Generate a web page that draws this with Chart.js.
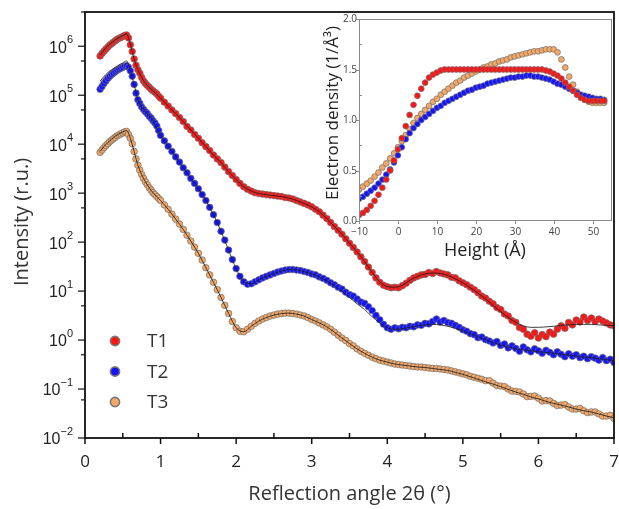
<!DOCTYPE html>
<html>
<head>
<meta charset="utf-8">
<script src="https://cdn.jsdelivr.net/npm/chart.js@4.4.1/dist/chart.umd.min.js"></script>
<style>
  html, body { margin: 0; padding: 0; background: #fff; }
  #wrap { position: relative; width: 619px; height: 509px; }
  #main { position: absolute; left: 0; top: 0; }
  #inset { position: absolute; left: 300px; top: 0; }
</style>
</head>
<body>
<div id="wrap">
  <canvas id="main" width="619" height="509"></canvas>
  <canvas id="inset" width="319" height="270"></canvas>
</div>
<script>
// reflectivity curves (main plot)
const seriesNames = ['T1', 'T2', 'T3'];

const angle = [
  0.2, 0.225, 0.25, 0.275, 0.3, 0.325, 0.35, 0.375, 0.4, 0.425,
  0.45, 0.475, 0.5, 0.525, 0.55, 0.575, 0.6, 0.625, 0.65, 0.675,
  0.7, 0.725, 0.75, 0.775, 0.8, 0.825, 0.85, 0.875, 0.9, 0.925,
  0.95, 0.975, 1.0,
  1.05, 1.1, 1.15, 1.2, 1.25, 1.3, 1.35, 1.4, 1.45, 1.5,
  1.55, 1.6, 1.65, 1.7, 1.75, 1.8, 1.85, 1.9, 1.95, 2.0,
  2.05, 2.1, 2.15, 2.2, 2.25, 2.3, 2.35, 2.4, 2.45, 2.5,
  2.55, 2.6, 2.65, 2.7, 2.75, 2.8, 2.85, 2.9, 2.95, 3.0,
  3.05, 3.1, 3.15, 3.2, 3.25, 3.3, 3.35, 3.4, 3.45, 3.5,
  3.55, 3.6, 3.65, 3.7, 3.75, 3.8, 3.85, 3.9, 3.95, 4.0,
  4.05, 4.1, 4.15, 4.2, 4.25, 4.3, 4.35, 4.4, 4.45, 4.5,
  4.55, 4.6, 4.65, 4.7, 4.75, 4.8, 4.85, 4.9, 4.95, 5.0,
  5.05, 5.1, 5.15, 5.2, 5.25, 5.3, 5.35, 5.4, 5.45, 5.5,
  5.55, 5.6, 5.65, 5.7, 5.75, 5.8, 5.85, 5.9, 5.95, 6.0,
  6.05, 6.1, 6.15, 6.2, 6.25, 6.3, 6.35, 6.4, 6.45, 6.5,
  6.55, 6.6, 6.65, 6.7, 6.75, 6.8, 6.85, 6.9, 6.95, 7.0
];

const t1Intensity = [
  6.3e5, 7.1e5, 7.9e5, 8.7e5, 9.5e5, 1.05e6, 1.12e6, 1.2e6, 1.29e6, 1.38e6,
  1.45e6, 1.51e6, 1.58e6, 1.66e6, 1.7e6, 1.48e6, 1.07e6, 7.8e5, 5.5e5, 4.1e5,
  3.3e5, 2.8e5, 2.3e5, 1.95e5, 1.74e5, 1.58e5, 1.45e5, 1.32e5, 1.23e5, 1.15e5,
  1.07e5, 9.5e4, 8.7e4,
  7.2e4, 6.0e4, 5.0e4, 4.2e4, 3.5e4, 2.9e4, 2.3e4, 1.95e4, 1.58e4, 1.32e4,
  1.07e4, 8.9e3, 7.4e3, 6.0e3, 5.0e3, 4.2e3, 3.4e3, 2.75e3, 2.3e3, 1.9e3,
  1.58e3, 1.35e3, 1.2e3, 1.1e3, 1.02e3, 980, 955, 933, 912, 891,
  871, 851, 813, 794, 759, 708, 661, 617, 575, 525,
  468, 417, 355, 302, 251, 209, 174, 145, 117, 95,
  78, 63, 50, 40, 31, 24, 18.6, 15.1, 13.2, 12.3,
  11.7, 12.0, 11.7, 12.9, 14.5, 16.6, 18.6, 20.0, 21.4, 21.9,
  24.0, 22.9, 25.1, 23.4, 22.4, 21.4, 19.1, 18.6, 16.2, 14.8,
  13.5, 12.0, 10.7, 9.3, 7.9, 7.2, 6.2, 5.5, 4.6, 4.2,
  3.4, 3.1, 2.5, 2.3, 1.8, 1.66, 1.32, 1.2, 1.41, 1.1,
  1.29, 1.17, 1.45, 1.32, 1.66, 1.95, 1.74, 2.29, 2.04, 2.57,
  2.34, 2.95, 2.51, 2.82, 2.4, 2.69, 2.45, 2.24, 2.04, 1.95
];

const t2Intensity = [
  1.32e5, 1.51e5, 1.74e5, 1.95e5, 2.19e5, 2.4e5, 2.63e5, 2.82e5, 3.02e5, 3.24e5,
  3.39e5, 3.55e5, 3.72e5, 3.89e5, 3.98e5, 3.72e5, 3.16e5, 2.45e5, 1.66e5, 1.1e5,
  8.1e4, 6.8e4, 5.75e4, 5.1e4, 4.6e4, 4.2e4, 3.7e4, 3.4e4, 3.0e4, 2.7e4,
  2.35e4, 1.9e4, 1.51e4,
  1.17e4, 9.1e3, 7.1e3, 5.5e3, 4.3e3, 3.3e3, 2.6e3, 2.0e3, 1.58e3, 1.23e3,
  933, 708, 513, 363, 251, 166, 110, 69, 44, 28.8,
  20.0, 15.5, 13.8, 14.1, 15.5, 17.0, 18.6, 20.0, 21.4, 22.9,
  24.5, 25.7, 26.9, 27.5, 27.5, 26.9, 26.3, 25.1, 24.0, 22.4,
  21.4, 19.5, 18.2, 16.6, 14.8, 13.5, 12.0, 11.0, 9.5, 8.5,
  7.9, 6.9, 6.0, 5.6, 4.8, 4.0, 3.2, 2.6, 2.1, 1.78,
  1.66, 1.78, 1.70, 1.82, 1.78, 1.91, 1.86, 2.04, 2.0, 2.19,
  2.14, 2.4, 2.69, 2.34, 2.51, 2.29, 2.19, 2.0, 1.82, 1.62,
  1.51, 1.35, 1.29, 1.12, 1.15, 1.02, 0.955, 0.871, 0.933, 0.776,
  0.832, 0.692, 0.759, 0.676, 0.589, 0.724, 0.631, 0.575, 0.661, 0.603,
  0.537, 0.617, 0.562, 0.501, 0.575, 0.513, 0.457, 0.525, 0.468, 0.501,
  0.437, 0.468, 0.417, 0.457, 0.427, 0.389, 0.437, 0.38, 0.407, 0.347
];

const t3Intensity = [
  6.8e3, 7.6e3, 8.5e3, 9.3e3, 1.02e4, 1.12e4, 1.2e4, 1.29e4, 1.38e4, 1.48e4,
  1.55e4, 1.62e4, 1.7e4, 1.78e4, 1.82e4, 1.58e4, 1.32e4, 1.02e4, 7.1e3, 5.0e3,
  3.7e3, 2.95e3, 2.4e3, 2.0e3, 1.7e3, 1.48e3, 1.29e3, 1.15e3, 1.02e3, 933,
  851, 776, 708,
  575, 468, 372, 295, 234, 182, 138, 105, 79, 59,
  43, 30, 21.4, 15.1, 10.7, 7.4, 5.1, 3.5, 2.4, 1.78,
  1.51, 1.48, 1.66, 1.91, 2.19, 2.45, 2.69, 2.88, 3.09, 3.24,
  3.39, 3.47, 3.55, 3.55, 3.47, 3.39, 3.24, 3.09, 2.88, 2.63,
  2.45, 2.24, 2.04, 1.86, 1.66, 1.45, 1.26, 1.10, 0.977, 0.851,
  0.759, 0.661, 0.589, 0.537, 0.49, 0.447, 0.417, 0.389, 0.372, 0.355,
  0.339, 0.324, 0.316, 0.309, 0.302, 0.295, 0.288, 0.282, 0.282, 0.275,
  0.269, 0.263, 0.263, 0.257, 0.251, 0.245, 0.234, 0.224, 0.214, 0.204,
  0.195, 0.182, 0.174, 0.166, 0.158, 0.148, 0.148, 0.132, 0.118, 0.115,
  0.112, 0.1, 0.091, 0.089, 0.087, 0.079, 0.07, 0.071, 0.072, 0.065,
  0.057, 0.058, 0.057, 0.051, 0.046, 0.047, 0.048, 0.043, 0.039, 0.039,
  0.040, 0.036, 0.033, 0.034, 0.034, 0.031, 0.028, 0.028, 0.029, 0.025
];

// fitted curves
const fitAngle = [
  0.2, 0.25, 0.3, 0.35, 0.4, 0.45, 0.5, 0.55, 0.6, 0.65, 0.7, 0.75, 0.8,
  0.9, 1.0, 1.1, 1.2, 1.3, 1.4, 1.5, 1.6, 1.7, 1.8, 1.9, 2.0,
  2.1, 2.2, 2.3, 2.4, 2.5, 2.6, 2.7, 2.8, 2.9, 3.0,
  3.1, 3.2, 3.3, 3.4, 3.5, 3.6, 3.7, 3.8, 3.9, 4.0,
  4.1, 4.2, 4.3, 4.4, 4.5, 4.6, 4.7, 4.8, 4.9, 5.0,
  5.1, 5.2, 5.3, 5.4, 5.5, 5.6, 5.7, 5.8, 5.9, 6.0,
  6.1, 6.2, 6.3, 6.4, 6.5, 6.6, 6.7, 6.8, 6.9, 7.0
];

const t1Fit = [
  6.6e5, 8.3e5, 1.0e6, 1.17e6, 1.35e6, 1.51e6, 1.66e6, 1.78e6, 1.12e6, 5.5e5, 3.3e5, 2.3e5, 1.74e5,
  1.23e5, 8.7e4, 6.0e4, 4.2e4, 2.9e4, 1.95e4, 1.32e4, 8.9e3, 6.0e3, 4.2e3, 2.75e3, 1.9e3,
  1.35e3, 1.1e3, 980, 933, 891, 851, 794, 708, 617, 525,
  417, 302, 209, 145, 95, 63, 40, 24, 15.5, 12.3,
  12.0, 13.2, 16.6, 20.0, 22.4, 23.4, 22.9, 20.9, 17.8, 14.8,
  11.7, 9.1, 6.9, 5.1, 3.8, 2.9, 2.3, 1.95, 1.82, 1.82,
  1.86, 1.91, 2.0, 2.04, 2.09, 2.09, 2.09, 2.04, 2.0, 1.95
];

const t2Fit = [
  1.95e5, 2.4e5, 2.88e5, 3.31e5, 3.72e5, 4.17e5, 4.57e5, 5.0e5, 3.16e5, 1.66e5, 8.1e4, 5.75e4, 4.6e4,
  3.0e4, 1.51e4, 9.1e3, 5.5e3, 3.3e3, 2.0e3, 1.23e3, 708, 363, 166, 69, 28.8,
  15.5, 14.1, 17.0, 20.0, 22.9, 25.7, 27.5, 26.9, 25.1, 22.4,
  19.5, 16.2, 12.9, 10.0, 7.4, 5.5, 4.2, 3.0, 2.24, 1.78,
  1.66, 1.70, 1.82, 1.95, 2.04, 2.09, 2.04, 1.91, 1.74, 1.55,
  1.35, 1.17, 1.02, 0.891, 0.794, 0.724, 0.661, 0.631, 0.603, 0.575,
  0.562, 0.537, 0.513, 0.49, 0.468, 0.447, 0.437, 0.417, 0.398, 0.38
];

const t3Fit = [
  7.1e3, 8.9e3, 1.07e4, 1.26e4, 1.45e4, 1.62e4, 1.78e4, 1.91e4, 1.32e4, 7.1e3, 3.7e3, 2.4e3, 1.7e3,
  1.02e3, 708, 468, 295, 182, 105, 59, 30, 15.1, 7.4, 3.5, 1.78,
  1.48, 1.91, 2.45, 2.88, 3.24, 3.47, 3.55, 3.39, 3.09, 2.63,
  2.24, 1.86, 1.45, 1.10, 0.851, 0.661, 0.537, 0.447, 0.389, 0.355,
  0.324, 0.309, 0.295, 0.282, 0.275, 0.263, 0.251, 0.24, 0.219, 0.2,
  0.178, 0.158, 0.141, 0.126, 0.112, 0.098, 0.087, 0.078, 0.069, 0.063,
  0.056, 0.051, 0.047, 0.043, 0.039, 0.036, 0.034, 0.031, 0.028, 0.026
];

const xTickLabels = ['0', '1', '2', '3', '4', '5', '6', '7'];
const yTickExponents = [-2, -1, 0, 1, 2, 3, 4, 5, 6];

// electron density profiles (inset)
const height = [
  -10, -9, -8, -7, -6, -5, -4, -3, -2, -1,
  0, 1, 2, 3, 4, 5, 6, 7, 8, 9,
  10, 11, 12, 13, 14, 15, 16, 17, 18, 19,
  20, 21, 22, 23, 24, 25, 26, 27, 28, 29,
  30, 31, 32, 33, 34, 35, 36, 37, 38, 39,
  40, 41, 42, 43, 44, 45, 46, 47, 48, 49,
  50, 51, 52, 53
];

const t1Density = [
  0.06, 0.08, 0.11, 0.15, 0.20, 0.26, 0.33, 0.41, 0.50, 0.60,
  0.71, 0.82, 0.94, 1.05, 1.15, 1.24, 1.31, 1.37, 1.42, 1.45,
  1.47, 1.49, 1.50, 1.50, 1.50, 1.50, 1.50, 1.50, 1.50, 1.50,
  1.50, 1.50, 1.50, 1.50, 1.50, 1.50, 1.50, 1.50, 1.50, 1.50,
  1.50, 1.50, 1.50, 1.50, 1.50, 1.50, 1.50, 1.50, 1.49, 1.48,
  1.46, 1.44, 1.41, 1.37, 1.33, 1.29, 1.25, 1.22, 1.20, 1.19,
  1.19, 1.19, 1.19, 1.19
];

const t2Density = [
  0.22, 0.24, 0.27, 0.30, 0.33, 0.37, 0.41, 0.46, 0.51, 0.58,
  0.65, 0.73, 0.81, 0.87, 0.92, 0.96, 1.00, 1.03, 1.06, 1.09,
  1.12, 1.14, 1.17, 1.19, 1.21, 1.23, 1.25, 1.27, 1.29, 1.30,
  1.32, 1.33, 1.34, 1.36, 1.37, 1.38, 1.39, 1.40, 1.41, 1.42,
  1.42, 1.43, 1.43, 1.44, 1.44, 1.43, 1.43, 1.42, 1.41, 1.40,
  1.38, 1.36, 1.35, 1.33, 1.31, 1.29, 1.27, 1.25, 1.24, 1.23,
  1.22, 1.21, 1.21, 1.20
];

const t3Density = [
  0.31, 0.34, 0.37, 0.40, 0.44, 0.48, 0.53, 0.57, 0.62, 0.67,
  0.73, 0.79, 0.85, 0.91, 0.97, 1.02, 1.06, 1.10, 1.14, 1.18,
  1.21, 1.25, 1.28, 1.31, 1.34, 1.37, 1.39, 1.42, 1.44, 1.46,
  1.48, 1.50, 1.52, 1.53, 1.55, 1.56, 1.58, 1.59, 1.60, 1.62,
  1.63, 1.64, 1.65, 1.66, 1.67, 1.68, 1.68, 1.69, 1.70, 1.70,
  1.70, 1.67, 1.60, 1.52, 1.43, 1.35, 1.28, 1.23, 1.20, 1.18,
  1.17, 1.17, 1.17, 1.17
];

const colors = ['#ff1414', '#1414ff', '#f5a865'];

const toPoints = (xs, ys) => xs.map((v, i) => ({ x: v, y: ys[i] }));

function scatterSet(label, xs, ys, color, radius, order) {
  return {
    type: 'scatter',
    label: label,
    data: toPoints(xs, ys),
    pointRadius: radius,
    pointBackgroundColor: color,
    pointBorderColor: 'rgba(110,110,110,0.8)',
    pointBorderWidth: 0.9,
    order: order
  };
}

function fitSet(xs, ys) {
  return {
    type: 'line',
    label: 'fit',
    data: toPoints(xs, ys),
    showLine: true,
    pointRadius: 0,
    borderColor: 'rgba(30,30,30,0.85)',
    borderWidth: 1,
    fill: false,
    cubicInterpolationMode: 'monotone',
    order: 0
  };
}

function line(ctx, x1, y1, x2, y2) {
  ctx.beginPath();
  ctx.moveTo(x1, y1);
  ctx.lineTo(x2, y2);
  ctx.stroke();
}

// axes, ticks, labels and legend of the main plot
const mainDecor = {
  id: 'mainDecor',
  afterDraw(chart) {
    const { ctx, chartArea: a } = chart;
    const x = chart.scales.x, y = chart.scales.y;
    ctx.save();
    ctx.strokeStyle = '#111';
    ctx.lineWidth = 1.8;
    ctx.strokeRect(a.left, a.top, a.right - a.left, a.bottom - a.top);

    ctx.lineWidth = 1.5;
    x.ticks.forEach(t => {
      const px = x.getPixelForValue(t.value);
      if (Number.isInteger(t.value)) line(ctx, px, a.bottom, px, a.bottom + 6);
      else line(ctx, px, a.bottom, px, a.bottom - 5);
    });
    ctx.lineWidth = 1.2;
    y.ticks.forEach(t => {
      const py = y.getPixelForValue(t.value);
      const lg = Math.log10(t.value);
      const major = Math.abs(lg - Math.round(lg)) < 1e-6;
      line(ctx, a.left, py, a.left - (major ? 7 : 4), py);
    });

    ctx.fillStyle = '#222';
    ctx.font = '17px "Open Sans"';
    ctx.textAlign = 'center';
    ctx.textBaseline = 'middle';
    xTickLabels.forEach((s, i) => {
      ctx.fillText(s, x.getPixelForValue(i), a.bottom + 24);
    });

    yTickExponents.forEach(e => {
      const py = y.getPixelForValue(Math.pow(10, e));
      const sup = e < 0 ? '\u2212' + Math.abs(e) : String(e);
      ctx.font = '11px "Liberation Sans"';
      const wSup = ctx.measureText(sup).width;
      ctx.textAlign = 'right';
      ctx.fillText(sup, 73, py - 6);
      ctx.font = '16px "Liberation Sans"';
      ctx.fillText('10', 73 - wSup, py + 2);
    });

    ctx.fillStyle = '#333';
    ctx.font = '20px "Open Sans"';
    ctx.textAlign = 'center';
    ctx.fillText('Reflection angle 2\u03b8 (\u00b0)', (a.left + a.right) / 2, 494);
    ctx.save();
    ctx.translate(22, 222);
    ctx.rotate(-Math.PI / 2);
    ctx.fillText('Intensity (r.u.)', 0, 0);
    ctx.restore();

    // legend
    ctx.font = '19px "Open Sans"';
    ctx.textAlign = 'left';
    seriesNames.forEach((name, i) => {
      const cy = a.bottom - 97 + i * 30.5;
      ctx.beginPath();
      ctx.arc(a.left + 30, cy, 4.6, 0, Math.PI * 2);
      ctx.fillStyle = colors[i];
      ctx.fill();
      ctx.strokeStyle = '#777';
      ctx.lineWidth = 1.6;
      ctx.stroke();
      ctx.fillStyle = '#333';
      ctx.fillText(name, a.left + 62, cy + 1);
    });
    ctx.restore();
  }
};

new Chart(document.getElementById('main'), {
  type: 'scatter',
  data: {
    datasets: [
      fitSet(fitAngle, t1Fit),
      fitSet(fitAngle, t2Fit),
      fitSet(fitAngle, t3Fit),
      scatterSet(seriesNames[0], angle, t1Intensity, colors[0], 3.3, 1),
      scatterSet(seriesNames[1], angle, t2Intensity, colors[1], 3.3, 2),
      scatterSet(seriesNames[2], angle, t3Intensity, colors[2], 3.3, 3)
    ]
  },
  options: {
    responsive: false,
    animation: false,
    devicePixelRatio: 1,
    layout: { padding: { left: 85, top: 12, right: 5, bottom: 71 } },
    plugins: { legend: { display: false }, tooltip: { enabled: false } },
    scales: {
      x: { type: 'linear', display: false, min: 0, max: 7, ticks: { stepSize: 0.5 } },
      y: { type: 'logarithmic', display: false, min: 0.01, max: 5e6 }
    }
  },
  plugins: [mainDecor]
});

// inset frame, ticks and titles
const insetDecor = {
  id: 'insetDecor',
  beforeDraw(chart) {
    const { ctx, chartArea: a } = chart;
    ctx.save();
    ctx.fillStyle = '#fff';
    ctx.fillRect(a.left, a.top, a.right - a.left, a.bottom - a.top);
    ctx.restore();
  },
  afterDraw(chart) {
    const { ctx, chartArea: a } = chart;
    const x = chart.scales.x, y = chart.scales.y;
    ctx.save();
    ctx.strokeStyle = '#8a8a8a';
    ctx.lineWidth = 1;
    ctx.strokeRect(a.left + 0.5, a.top + 0.5, a.right - a.left - 1, a.bottom - a.top - 1);

    ctx.fillStyle = '#444';
    ctx.font = '10px "Open Sans"';
    x.ticks.forEach(t => {
      const px = Math.round(x.getPixelForValue(t.value)) + 0.5;
      if (t.value % 10 === 0) {
        line(ctx, px, a.bottom, px, a.bottom + 3);
        ctx.textAlign = 'center';
        ctx.textBaseline = 'middle';
        const s = t.value < 0 ? '\u2212' + Math.abs(t.value) : String(t.value);
        ctx.fillText(s, px, a.bottom + 11);
      } else {
        line(ctx, px, a.bottom, px, a.bottom - 3);
      }
    });
    y.ticks.forEach(t => {
      const py = Math.round(y.getPixelForValue(t.value)) + 0.5;
      if (Math.abs(t.value * 2 - Math.round(t.value * 2)) < 1e-6) {
        line(ctx, a.left, py, a.left - 3, py);
        ctx.textAlign = 'right';
        ctx.textBaseline = 'middle';
        ctx.fillText(t.value.toFixed(1), a.left - 2, py);
      } else {
        line(ctx, a.left, py, a.left + 3, py);
      }
    });

    ctx.fillStyle = '#222';
    ctx.textAlign = 'center';
    ctx.textBaseline = 'middle';
    ctx.font = '18px "Open Sans"';
    ctx.fillText('Height (\u00c5)', 185, 251);
    ctx.save();
    ctx.translate(33, 113);
    ctx.rotate(-Math.PI / 2);
    ctx.font = '17px "Open Sans"';
    ctx.fillText('Electron density (1/\u00c5\u00b3)', 0, 0);
    ctx.restore();
    ctx.restore();
  }
};

new Chart(document.getElementById('inset'), {
  type: 'scatter',
  data: {
    datasets: [
      scatterSet(seriesNames[0], height, t1Density, colors[0], 2.9, 1),
      scatterSet(seriesNames[1], height, t2Density, colors[1], 2.9, 2),
      scatterSet(seriesNames[2], height, t3Density, colors[2], 2.9, 3)
    ]
  },
  options: {
    responsive: false,
    animation: false,
    devicePixelRatio: 1,
    layout: { padding: { left: 59, top: 19, right: 7, bottom: 49 } },
    plugins: { legend: { display: false }, tooltip: { enabled: false } },
    scales: {
      x: { type: 'linear', display: false, min: -10, max: 55, ticks: { stepSize: 5 } },
      y: { type: 'linear', display: false, min: 0, max: 2, ticks: { stepSize: 0.25 } }
    }
  },
  plugins: [insetDecor]
});
</script>
</body>
</html>
